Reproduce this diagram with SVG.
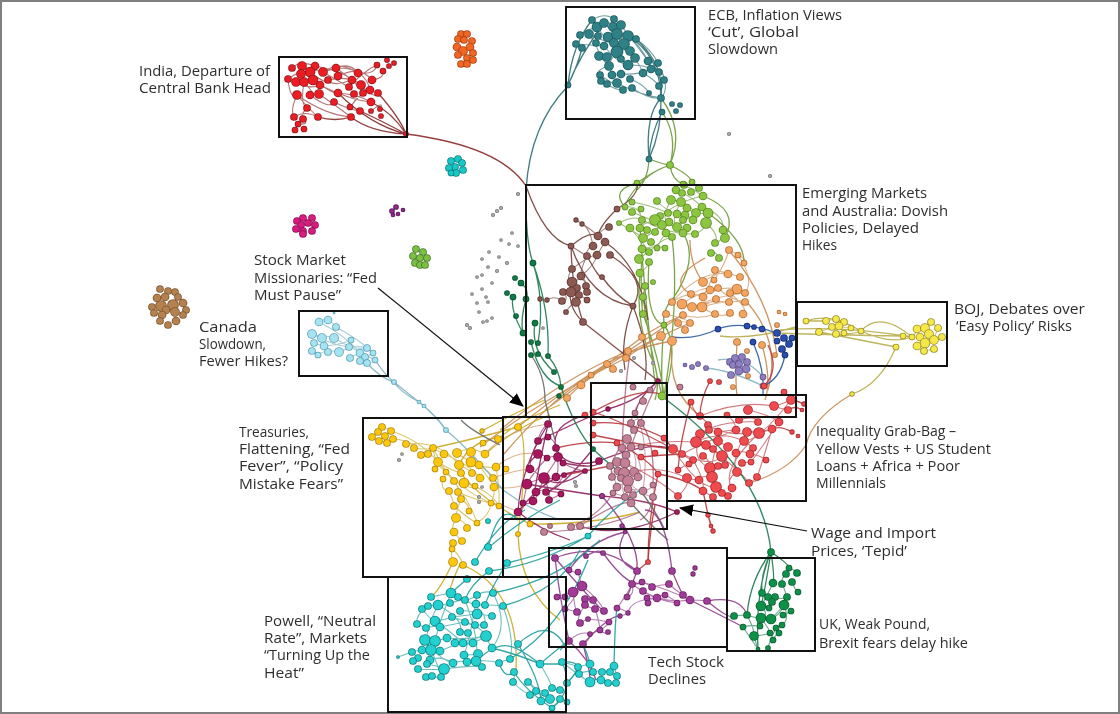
<svg xmlns="http://www.w3.org/2000/svg" width="1120" height="714" viewBox="0 0 1120 714">
<style>
text{font-family:"Open Sans","Liberation Sans",sans-serif;font-size:14px;fill:#2e2e2e}
.fr{fill:none;stroke:#111;stroke-width:2}
#connectors path{fill:none}
#connectors,#nodes,#labels{filter:url(#b)}
.e{stroke-width:1.1;opacity:.65}
.l{stroke-width:1.3;opacity:.9}
circle{stroke-width:1.7;paint-order:stroke}
.red{fill:#ed1c24;stroke:#8c1a1f}.teal{fill:#2f8187;stroke:#1f5b60}.green{fill:#8cc63f;stroke:#5a8a24}
.orange{fill:#f4a460;stroke:#b06f30}.brown{fill:#8d5a52;stroke:#5e3631}.blue{fill:#2a4eb0;stroke:#152c70}
.lav{fill:#8f7fc0;stroke:#5b4e8a}.yellow{fill:#f7e84a;stroke:#9a8f2a}.gold{fill:#fdc70f;stroke:#b08a10}
.maroon{fill:#a8185e;stroke:#6d0f3c}.mauve{fill:#c27f95;stroke:#7b4d5c}.ired{fill:#ef4b50;stroke:#a52a2f}
.dk{fill:#0c9149;stroke:#0a5f33}.purple{fill:#a23a98;stroke:#6a2564}.cyan{fill:#20d0cf;stroke:#12807f}
.lb{fill:#a5e3f2;stroke:#5ba2b5}.chain{fill:#0a7d45;stroke:#07502c}.gray{fill:#aaa;stroke:#777}
.orange2{fill:#f26522;stroke:#a8451a}.cy2{fill:#19c7c7;stroke:#0e8080}.pink{fill:#d81b7e;stroke:#8f1254}
.pur2{fill:#8e2a8e;stroke:#5b1b5b}.gr2{fill:#7ac143;stroke:#4d7c2a}.tan{fill:#b5814f;stroke:#7d5733}
.sred{stroke:#8a2a2a}.steal{stroke:#2b6e74}.sgreen{stroke:#6b9a35}.sor{stroke:#c88a50}.sbr{stroke:#74403b}
.sgold{stroke:#c9a820}.sma{stroke:#8e1f5c}.sma2{stroke:#b0708a}.sir{stroke:#b8383d}.sdk{stroke:#1c7a4f}
.spu{stroke:#8e3a88}.scy{stroke:#1f9d9d}.slb{stroke:#7fb3c2}.sye{stroke:#b8ad4a}.sgr{stroke:#666}.sbl{stroke:#2a5aa0}
</style>
<defs><filter id="b" x="0" y="0" width="1120" height="714" filterUnits="userSpaceOnUse"><feGaussianBlur stdDeviation="0.35"/></filter><marker id="ah" markerWidth="14" markerHeight="12" refX="13" refY="6" orient="auto" markerUnits="userSpaceOnUse"><path d="M0,0L14,6L0,12Z" fill="#000"/></marker></defs>
<rect x="1" y="1" width="1118" height="712" fill="#fff" stroke="#7f7f7f" stroke-width="2"/>
<g id="connectors">
<path class="e sred" d="M292,68Q300,60 315,66M302,66Q320,75 336,68M336,68Q350,62 358,73M310,72Q330,90 351,80M288,79Q290,100 297,95M304,82Q300,105 307,108M313,80Q335,95 338,93M320,85Q350,100 371,102M338,76Q360,65 372,80M358,73Q375,75 377,65M372,80Q385,78 383,71M297,95Q290,110 294,117M297,95Q310,110 318,117M319,94Q335,105 351,117M338,93Q360,95 371,102M350,107Q355,100 363,93M307,108Q300,115 303,119M334,102Q350,110 360,111M294,117Q305,110 318,117M298,124Q310,125 303,119M349,87Q365,70 377,65M361,85Q375,100 378,93M323,72Q340,60 358,73M328,80Q350,75 361,85M371,111Q385,100 380,109M315,66Q345,72 352,80M323,72Q345,85 349,87M310,95Q330,110 334,102M297,95Q325,115 351,117M304,82Q320,100 310,95M338,68Q365,68 370,90M336,68Q360,85 363,93M288,79Q300,70 310,72M296,82Q310,90 320,85"/>
<path class="l sred" d="M406,134Q500,146 526,186M406,134Q370,132 351,117M406,134Q380,120 360,111M406,134Q392,112 371,102M406,134Q370,125 338,93M351,117Q335,122 318,117M406,134Q400,118 378,93"/>
<path class="e steal" d="M592,20Q605,12 614,19M597,27Q610,20 621,25M580,35Q590,28 597,27M589,34Q610,45 624,44M608,37Q625,50 635,58M576,44Q590,45 604,46M628,36Q640,45 648,61M636,39Q652,50 658,63M648,61Q655,75 659,72M630,79Q645,85 649,93M632,88Q650,100 661,98M621,74Q640,75 651,69M617,83Q640,95 661,98M643,73Q655,80 659,86M599,56Q610,65 612,75M609,66Q595,70 600,75M628,65Q645,65 651,69M607,84Q615,90 623,90M651,69Q665,70 664,80M664,80Q668,90 661,98M597,27Q610,45 617,52M604,23Q620,40 630,51M613,27Q630,50 635,58M621,25Q640,50 648,61M589,34Q600,50 599,56M604,46Q620,65 628,65M614,43Q625,60 621,59M617,52Q610,60 609,66M630,51Q640,65 643,73M600,75Q615,85 623,90"/>
<path class="l steal" d="M568,86Q530,125 526,190M568,85Q572,45 592,20M568,85Q580,55 604,23M568,85Q578,65 582,48M628,36Q660,55 661,98M636,39Q665,65 661,98M661,98Q645,115 649,159M661,98Q662,130 649,159M662,112Q650,135 649,159"/>
<path class="l sgreen" d="M662,112Q678,135 670,165M661,98Q685,130 670,165M670,165Q640,175 625,205M670,165Q655,170 637,183M670,165Q672,180 683,184M670,165Q690,175 692,182M649,159Q665,165 670,165M649,159Q648,180 637,190"/>
<path class="e sgreen" d="M684,185Q695,190 703,196M676,190Q690,195 702,207M671,200Q685,200 696,213M657,201Q665,210 677,214M625,207Q640,205 642,220M632,202Q650,205 668,213M619,223Q635,215 642,220M708,213Q695,215 687,208M655,220Q640,225 640,228M662,225Q650,235 643,238M677,227Q685,220 696,213M695,234Q705,230 706,223M666,233Q660,240 657,248M642,249Q655,245 665,248M639,259Q650,250 649,252M649,252Q660,240 672,237M640,273Q650,265 649,262M719,258Q715,250 711,253M723,230Q725,240 715,243M655,220Q680,200 703,196M632,212Q660,225 687,228M642,220Q670,235 695,234M671,200Q660,220 669,222M681,202Q670,220 677,227M619,223Q640,235 643,238M630,228Q645,245 649,252M706,223Q720,235 715,243M702,207Q725,215 723,230"/>
<path class="l sgreen" d="M642,249Q640,300 643,314M643,297Q650,350 662,396M672,237Q680,300 664,396M640,228Q645,300 655,383M683,233Q700,260 672,300Q662,310 664,325M703,196Q740,210 725,238M708,213Q745,240 744,263M646,286Q640,300 643,314Q660,360 664,396M649,262Q645,320 664,325M664,325Q660,370 663,398M640,273Q635,330 655,365Q660,385 655,400M664,325Q680,345 664,396M625,207Q610,190 637,183"/>
<path class="e sor" d="M729,250Q750,260 744,263M738,255Q755,280 745,293M715,270Q735,275 740,277M703,282Q720,270 728,274M691,294Q710,285 710,290M703,297Q720,285 737,289M672,302Q690,290 703,297M682,304Q700,310 716,299M692,307Q710,300 729,302M702,307Q720,320 730,313M683,315Q700,320 715,314M666,314Q690,320 690,323M730,293Q750,310 743,314M737,289Q730,300 729,302M718,288Q730,300 745,302M714,280Q725,265 729,250M690,323Q675,320 678,323M685,330Q680,325 678,323M672,302Q700,270 728,274M682,304Q710,285 737,289M692,307Q720,295 745,293M702,307Q725,300 745,302M715,270Q710,285 703,297"/>
<path class="l sor" d="M480,447Q540,400 626,358Q650,340 690,323M500,430Q560,380 628,351Q660,330 682,315M518,427Q570,385 607,364M545,410Q590,378 642,337M567,398Q600,365 661,336M503,455Q550,400 591,375Q620,350 672,341M672,341C668,380 680,400 700,416M737,342Q735,380 737,396M762,345Q772,380 765,400M745,300Q782,340 768,390M729,250Q770,300 777,355M691,294Q665,280 705,258M703,282Q690,265 690,240M642,337Q660,325 683,315"/>
<path class="e sbr" d="M576,220Q590,228 598,236M582,224Q590,228 593,246M609,227Q600,230 598,236M605,242Q600,250 597,255M593,246Q585,250 587,256M571,246Q585,255 587,256M572,269Q565,280 572,282M581,276Q590,285 587,292M563,292Q570,300 562,301M579,295Q585,298 587,300M566,312Q570,305 576,302M547,300Q555,295 562,301M540,299Q550,302 547,300M572,269Q590,255 597,255M581,276Q595,265 597,255M571,292Q580,290 579,295M572,282Q585,275 586,286M576,302Q570,295 571,292M587,256Q580,270 581,276"/>
<path class="l sbr" d="M617,209Q640,195 637,183M617,209Q600,225 598,236M571,246Q590,230 598,236M571,246Q572,290 583,322M610,255Q650,280 633,306M583,322L657,380M572,282Q565,305 583,322M633,306Q620,340 625,370M633,306Q650,350 645,380M526,186Q545,240 571,246M571,246Q590,300 633,306M605,242Q640,265 648,320M602,277Q615,295 633,306M587,256Q600,280 602,277"/>
<path class="e sgold" d="M382,427Q395,430 391,431M372,437Q385,445 393,439M393,439Q410,440 414,448M414,448Q425,450 433,448M421,455Q430,445 444,454M433,448Q435,465 446,472M457,453Q470,445 485,454M438,462Q450,470 461,473M459,465Q470,470 472,473M471,462Q490,470 493,478M479,465Q490,480 494,487M454,481Q460,490 458,492M464,483Q470,490 475,486M449,491Q455,505 454,506M461,499Q470,505 469,511M454,518Q465,520 467,528M456,518Q450,530 454,532M454,532Q460,540 462,541M453,543Q450,555 453,562M452,549Q460,555 463,565M491,503Q495,495 494,487M499,506Q500,490 496,467M477,523Q490,515 491,503M443,479Q440,490 449,491M444,454Q470,465 480,478M438,462Q460,490 491,503M457,453Q480,470 496,467M446,472Q470,500 477,523M464,483Q490,490 499,506M458,492Q475,500 491,503M454,506Q470,520 477,523M406,444Q440,440 459,465M391,431Q420,440 438,462M461,499Q455,515 456,518M433,448Q450,480 454,481"/>
<path class="l sgold" d="M518,427Q470,440 433,448M530,524Q480,500 461,473M503,437Q470,440 459,465M530,524Q590,525 640,512M518,534Q520,590 560,620M463,565Q520,590 516,670M453,562Q440,590 431,597M461,562Q450,585 449,595M498,439Q520,420 560,405M485,454Q520,425 550,415M518,427Q530,435 518,534M482,431Q520,410 545,400"/>
<path class="e sor" d="M496,467Q515,450 538,454M493,478Q515,470 530,469M494,487Q510,490 527,484M491,503Q505,505 518,512M485,454Q505,430 548,424"/>
<path class="e sma" d="M548,424Q540,430 538,441M538,441Q545,440 548,437M548,437Q555,440 556,448M538,454Q545,455 547,458M547,458Q555,455 558,457M558,457Q560,460 563,463M530,469Q540,475 544,478M544,478Q550,480 556,477M556,477Q560,475 564,475M527,484Q535,480 544,478M536,492Q545,488 546,492M546,492Q555,490 561,494M533,501Q540,495 536,492M549,500Q555,497 561,494M523,503Q530,505 533,501M518,512Q525,510 523,503M538,441Q530,455 530,469M556,448Q560,470 556,477M544,478Q540,490 536,492M544,478Q550,490 549,500M558,457Q550,470 544,478M527,484Q525,495 523,503M547,458Q535,470 527,484M564,475Q555,490 546,492M563,463Q575,470 585,471"/>
<path class="l sma" d="M538,441Q570,425 608,409M608,409Q640,400 658,381M599,461Q565,470 556,448M599,461Q650,440 673,449M585,471Q560,490 544,478M518,512Q550,470 585,471M602,496Q560,490 527,484M602,496Q650,500 677,512M548,424Q538,470 533,501M548,424Q520,470 518,512M677,512Q620,540 580,526M538,454Q520,470 530,469M563,463Q600,470 599,461M585,415Q550,425 556,448M593,449Q560,490 546,492M518,512Q540,530 570,540M658,381Q640,395 635,413"/>
<path class="e sma2" d="M643,401Q635,405 635,413M635,413Q630,420 631,423M631,423Q640,415 641,423M641,423Q635,425 634,430M634,430Q630,435 627,439M627,439Q622,445 622,448M622,448Q630,440 631,447M631,447Q630,455 626,455M626,455Q620,460 617,462M617,462Q610,465 610,466M617,462Q620,465 625,463M625,463Q635,470 634,472M618,471Q625,470 624,473M612,477Q620,475 621,478M628,481Q635,480 638,477M617,487Q625,480 628,489M628,489Q640,490 643,491M643,491Q650,490 653,485M653,485Q655,490 653,497M633,495Q640,490 628,489M625,497Q620,495 613,493M631,503Q635,495 633,495M627,439Q640,460 634,472M631,447Q645,465 638,477M610,466Q615,480 617,487M624,473Q620,485 625,497M628,481Q640,495 653,497M635,413Q650,440 643,491"/>
<path class="l sma2" d="M641,423Q655,440 653,485M627,439Q608,460 612,477M544,532Q600,530 640,512M580,526Q620,500 631,503M571,527Q600,515 613,493M653,497Q650,515 640,520M658,381Q640,420 631,447M630,355Q625,380 622,448"/>
<path class="e sir" d="M791,400Q780,405 774,406M774,406Q785,410 788,410M748,410Q770,415 779,422M739,420Q755,415 758,422M727,415Q735,420 736,430M700,416Q710,425 708,425M691,402Q695,415 700,416M700,434Q705,430 709,430M718,432Q730,430 736,430M747,432Q755,430 759,433M772,429Q770,430 759,433M696,442Q700,445 706,445M718,441Q725,445 728,447M744,441Q750,445 753,448M713,449Q720,455 722,456M673,449Q680,450 682,454M682,454Q690,460 693,460M703,456Q710,460 710,468M736,453Q745,450 750,454M750,454Q760,455 766,460M742,463Q750,462 751,462M718,466Q722,470 725,465M678,470Q685,465 689,464M737,472Q725,480 732,488M712,477Q700,475 699,480M687,478Q695,480 699,480M757,477Q755,480 749,483M716,487Q725,490 722,493M703,491Q710,495 713,497M728,496Q725,495 722,493M678,496Q690,485 687,478M673,449Q710,470 722,456M708,425Q730,440 772,429M696,442Q720,430 744,441M700,434Q690,460 710,468M759,433Q720,470 732,488M779,422Q760,450 751,462M700,416Q740,400 774,406M631,447Q660,440 696,442M634,472Q660,465 687,478M625,463Q660,480 678,496M673,449Q700,490 716,487M682,454Q710,440 736,430M706,445Q740,470 749,483M718,441Q710,465 712,477M747,432Q730,460 737,472M772,429Q760,470 757,477M693,460Q705,480 703,491M758,422Q720,420 700,434M791,400Q760,440 744,441"/>
<path class="l sir" d="M593,412Q620,420 673,449M593,435Q640,445 673,449M617,443Q650,460 658,474M658,474Q690,480 703,491M691,402Q680,440 678,470M648,562Q648,520 658,474M708,515Q706,505 703,491M764,386Q780,370 768,345M710,381Q700,400 700,416M593,423Q630,420 664,438M664,438Q670,445 673,449M641,457Q660,455 682,454M593,412Q640,385 664,395M556,448Q590,440 617,443M564,475Q590,470 610,466"/>
<path class="l sir" d="M713,531Q708,515 708,515M711,526L708,515M792,432Q780,425 772,429M804,404Q795,400 791,400M802,410Q795,405 788,410"/>
<path class="l sdk" d="M664,398C720,440 765,490 771,552M533,263Q545,300 538,343M533,263Q550,310 548,356M535,323Q530,350 554,372M548,356Q560,370 561,387M531,342Q540,380 561,386M561,387Q575,430 593,449Q610,465 617,470M526,190C525,220 528,250 533,263M521,283Q530,290 526,299M523,333Q510,310 513,297M771,552Q765,590 761,606M771,552Q750,580 747,615M771,552Q790,565 789,568M771,552Q775,580 773,583M771,552Q755,590 758,649M771,552Q760,575 762,593M526,299Q520,320 523,333"/>
<path class="e sdk" d="M789,568Q795,570 797,573M786,574Q780,580 782,584M792,582Q795,590 798,592M762,593Q765,595 768,597M775,597Q780,600 787,597M772,602Q770,605 769,608M761,606Q770,615 761,618M784,605Q775,615 771,619M791,611Q785,615 783,615M747,615Q755,618 761,618M734,616Q740,615 747,615M743,627Q750,625 760,626M776,628Q780,625 782,625M754,636Q765,635 770,633M779,633Q775,635 773,640M768,648Q770,640 773,640M758,649Q755,640 754,636M761,618Q770,630 770,633M771,619Q780,615 784,605M762,593Q775,605 772,602M773,583Q765,600 761,606M782,584Q790,600 784,605M747,615Q755,630 754,636M743,627Q755,645 758,649M776,628Q770,640 768,648M784,605Q790,620 782,625"/>
<path class="l sgr" d="M531,355Q545,375 545,400Q552,430 555,440M631,503Q650,525 668,540M640,490Q655,510 665,530M500,445Q470,430 461,420"/>
<path class="e spu" d="M578,572Q580,580 582,586M582,586Q575,590 573,592M632,584Q640,585 642,582M642,582Q650,585 652,587M652,587Q660,585 669,584M669,584Q675,590 683,595M557,597Q560,600 565,597M585,599Q590,598 593,600M627,597Q635,595 632,584M647,598Q650,600 657,598M657,598Q660,595 665,595M665,595Q675,600 677,603M690,600Q680,600 677,603M690,600Q700,600 707,601M565,609Q570,610 577,612M585,605Q590,608 595,609M595,609Q600,610 604,611M617,608Q625,610 628,613M628,613Q625,615 620,616M580,623Q585,620 588,619M609,622Q605,628 600,630M590,634Q595,632 600,630M608,632Q605,635 600,630M569,570Q580,575 578,572M573,592Q560,595 557,597M582,586Q600,600 604,611M617,608Q630,590 632,584M588,619Q600,620 609,622M569,641Q580,630 590,634M583,644Q590,640 590,634M656,598Q630,600 628,613M643,591Q655,600 677,603M632,584Q660,605 690,600M642,582Q670,590 690,600M573,592Q575,610 577,612M582,586Q570,605 565,609M593,600Q600,625 600,630M585,605Q575,620 580,623"/>
<path class="l spu" d="M602,496Q640,540 637,571M625,532Q610,560 637,571M672,571Q665,510 645,510M637,571Q600,540 555,558M586,556Q600,548 603,553M603,553Q630,590 642,582M555,558Q560,600 569,641M569,641Q590,660 596,680M707,601Q740,595 747,615M707,601Q730,620 734,616M690,600Q740,625 743,627M569,570Q590,540 625,532M555,558Q600,610 604,611M672,571Q680,590 683,595M637,571Q630,590 627,597M620,616Q610,615 583,644Q590,670 590,680"/>
<path class="l sir" d="M648,562L637,571M648,562Q650,530 655,505"/>
<path class="e scy" d="M431,597Q440,595 451,593M451,593Q455,595 458,597M422,609Q425,605 428,606M428,606Q435,605 438,605M438,605Q445,605 450,603M450,603Q460,600 465,600M465,600Q470,600 477,595M477,595Q485,590 493,593M476,604Q480,605 485,605M485,605Q495,605 503,606M460,611Q470,610 477,614M435,621Q445,620 452,617M452,617Q470,615 477,614M477,614Q485,615 492,616M417,624Q420,625 426,628M426,628Q435,625 440,627M440,627Q450,625 465,622M465,622Q470,625 475,625M475,625Q480,625 484,625M460,632Q465,630 468,633M425,640Q430,640 435,641M435,641Q440,640 447,638M447,638Q465,640 486,636M455,643Q460,645 463,643M463,643Q470,645 473,643M473,643Q480,640 486,636M486,636Q490,645 492,648M412,652Q420,650 422,650M422,650Q428,650 431,650M431,650Q438,650 440,651M478,654Q470,655 464,655M418,658Q415,660 413,661M430,660Q440,655 453,663M453,663Q460,660 467,662M467,662Q472,660 476,661M476,661Q490,660 499,663M499,663Q505,660 510,659M427,664Q435,665 444,669M444,669Q430,670 418,669M426,677Q430,675 432,676M432,676Q438,678 441,677M438,605Q420,640 431,650M451,593Q440,620 435,641M477,595Q470,640 464,655M493,593Q510,625 492,648M503,606Q515,640 510,659M465,600Q480,640 476,661M398,657L412,652M422,609Q440,630 440,627M428,606Q415,615 417,624M438,605Q465,620 460,632M458,597Q490,610 484,625M435,621Q455,635 463,643M452,617Q480,625 486,636M425,640Q440,660 453,663M440,651Q465,640 486,636M444,669Q470,665 482,667M431,650Q440,670 441,677"/>
<path class="e scy" d="M514,672Q515,678 513,682M513,682Q520,690 530,695M528,682Q535,690 536,691M536,691Q545,690 545,693M552,688Q555,690 560,690M545,693Q550,695 550,699M541,701Q545,700 550,699M560,699Q555,705 552,708M567,702Q565,700 560,699M567,683Q575,675 578,667M578,667Q585,665 590,664M579,674Q585,670 593,672M593,672Q600,670 602,672M602,672Q605,670 610,672M614,666Q615,670 617,676M590,682Q595,678 601,680M601,680Q605,682 608,683M608,683Q612,685 616,683M562,662Q575,665 578,667M562,662Q585,680 590,682M540,664Q550,680 552,688M528,682Q545,695 541,701"/>
<path class="l scy" d="M475,562Q500,520 525,510M488,548Q500,500 518,520M507,563Q560,550 588,536Q610,510 640,490M489,571Q540,565 588,536M488,548Q520,520 560,500M503,606Q560,590 580,550M518,644Q550,615 566,648M540,664Q580,630 560,650M540,664H562M614,666Q615,620 617,608M583,644Q590,660 590,666M476,661C500,640 510,640 540,664M514,672Q525,690 552,708M518,644Q540,680 541,701M492,648Q520,655 540,664M499,663Q505,680 514,672M489,571Q470,585 465,600M507,563Q490,590 485,605M467,579L451,593M493,593Q560,580 600,540M510,659Q560,630 588,560M567,683Q590,660 562,662M562,662Q575,690 552,708"/>
<path class="l slb" d="M375,360Q385,375 394,382Q400,392 419,402Q435,415 446,430Q470,450 503,490Q530,510 560,520M367,363Q380,378 394,382Q410,395 424,406Q440,420 446,430"/>
<path class="e slb" d="M319,322Q325,318 328,320M328,320Q332,322 336,327M312,334Q318,335 322,338M322,338Q330,335 334,338M314,343Q320,345 324,346M324,346Q340,345 351,340M312,351Q315,352 318,355M318,355Q325,350 328,352M328,352Q335,350 339,352M339,352Q345,350 349,347M349,347Q360,345 367,348M360,353Q355,355 350,358M365,357Q370,355 373,353M360,361Q365,362 367,363M312,334Q340,350 367,348M319,322Q345,335 360,353M334,338Q355,350 375,360M336,327Q360,340 373,353"/>
<path class="l sye" d="M777,333Q830,335 903,336M780,330Q840,325 912,337M796,327Q750,340 720,336M861,331Q890,345 912,337M861,331Q880,310 912,337M806,321Q830,312 861,331M819,332Q860,340 896,347M896,347Q880,385 852,394M806,321L826,321M861,331Q850,335 844,333"/>
<path class="l sor" d="M852,394Q812,418 806,445Q790,470 750,483"/>
<path class="e sye" d="M826,321Q830,320 836,319M836,319Q840,320 844,322M832,327Q835,328 839,326M839,326Q845,328 851,328M836,334Q840,330 844,333M819,332Q825,330 832,327M912,337Q915,335 917,329M917,329Q920,328 925,328M925,328Q930,325 931,322M931,322Q935,325 938,328M929,334Q925,335 920,337M934,340Q938,338 942,337M925,343Q920,345 917,346M917,346Q920,350 924,351M924,351Q930,350 934,349M903,336Q908,336 912,337M938,328Q935,335 934,340"/>
<path class="l sbl" d="M718,329Q740,320 777,333M672,337Q695,340 718,329M753,342Q765,370 763,395M785,355Q780,380 763,386"/>
<path class="l slb" d="M706,368Q730,370 763,386M763,377Q745,355 718,360"/>
</g>
<g id="nodes">
<g id="india" class="red"><circle cx="292" cy="68" r="3"/><circle cx="302" cy="66" r="4"/><circle cx="315" cy="66" r="3.5"/><circle cx="323" cy="72" r="4"/><circle cx="336" cy="68" r="3.5"/><circle cx="310" cy="72" r="4.5"/><circle cx="301" cy="74" r="4"/><circle cx="288" cy="79" r="3"/><circle cx="296" cy="82" r="4"/><circle cx="304" cy="82" r="4"/><circle cx="313" cy="80" r="4.5"/><circle cx="328" cy="80" r="3"/><circle cx="320" cy="85" r="3.5"/><circle cx="338" cy="76" r="3.5"/><circle cx="358" cy="73" r="3.5"/><circle cx="352" cy="80" r="3.5"/><circle cx="372" cy="80" r="3.5"/><circle cx="361" cy="85" r="4"/><circle cx="349" cy="87" r="3"/><circle cx="370" cy="90" r="3.5"/><circle cx="378" cy="93" r="3"/><circle cx="363" cy="93" r="3"/><circle cx="354" cy="94" r="3"/><circle cx="338" cy="93" r="3.5"/><circle cx="319" cy="94" r="4"/><circle cx="310" cy="95" r="3.5"/><circle cx="297" cy="95" r="4"/><circle cx="334" cy="102" r="3"/><circle cx="371" cy="102" r="3.5"/><circle cx="350" cy="107" r="2.5"/><circle cx="307" cy="108" r="3"/><circle cx="360" cy="111" r="3"/><circle cx="351" cy="117" r="3"/><circle cx="318" cy="117" r="3"/><circle cx="294" cy="117" r="3"/><circle cx="303" cy="119" r="3"/><circle cx="298" cy="124" r="2.5"/><circle cx="295" cy="130" r="2.5"/><circle cx="304" cy="129" r="2.5"/><circle cx="371" cy="111" r="2"/><circle cx="380" cy="109" r="2"/><circle cx="381" cy="116" r="2"/><circle cx="377" cy="65" r="2.5"/><circle cx="383" cy="71" r="2.5"/><circle cx="389" cy="66" r="2"/><circle cx="387" cy="60" r="2"/><circle cx="394" cy="63" r="2"/><circle cx="406" cy="134" r="2"/></g>
<g id="ecb" class="teal"><circle cx="592" cy="20" r="3"/><circle cx="614" cy="19" r="3"/><circle cx="597" cy="27" r="4.5"/><circle cx="604" cy="23" r="4"/><circle cx="613" cy="27" r="4"/><circle cx="621" cy="25" r="4"/><circle cx="580" cy="35" r="3"/><circle cx="589" cy="34" r="4"/><circle cx="598" cy="36" r="3"/><circle cx="608" cy="37" r="4.5"/><circle cx="617" cy="34" r="5"/><circle cx="628" cy="36" r="5"/><circle cx="636" cy="39" r="3"/><circle cx="576" cy="44" r="3"/><circle cx="582" cy="48" r="3"/><circle cx="596" cy="43" r="3"/><circle cx="604" cy="46" r="3.5"/><circle cx="614" cy="43" r="4"/><circle cx="624" cy="44" r="5"/><circle cx="630" cy="51" r="4"/><circle cx="617" cy="52" r="5.5"/><circle cx="599" cy="56" r="4"/><circle cx="607" cy="57" r="4"/><circle cx="621" cy="59" r="3"/><circle cx="635" cy="58" r="4"/><circle cx="609" cy="66" r="4"/><circle cx="628" cy="65" r="4.5"/><circle cx="648" cy="61" r="3.5"/><circle cx="658" cy="63" r="3"/><circle cx="651" cy="69" r="3.5"/><circle cx="659" cy="72" r="3"/><circle cx="643" cy="73" r="3.5"/><circle cx="600" cy="75" r="3"/><circle cx="612" cy="75" r="3.5"/><circle cx="621" cy="74" r="3.5"/><circle cx="630" cy="79" r="3"/><circle cx="617" cy="83" r="4"/><circle cx="601" cy="81" r="3"/><circle cx="607" cy="84" r="3"/><circle cx="623" cy="90" r="3"/><circle cx="632" cy="88" r="3"/><circle cx="649" cy="93" r="2"/><circle cx="659" cy="86" r="3"/><circle cx="664" cy="80" r="3"/><circle cx="661" cy="98" r="3"/><circle cx="662" cy="112" r="2.5"/><circle cx="672" cy="104" r="2"/><circle cx="680" cy="105" r="2"/><circle cx="676" cy="111" r="2"/><circle cx="568" cy="85" r="2.5"/><circle cx="649" cy="159" r="2.5"/></g>
<g id="emerging" class="green"><circle cx="684" cy="185" r="3"/><circle cx="676" cy="190" r="3.5"/><circle cx="692" cy="182" r="2.5"/><circle cx="637" cy="183" r="2.5"/><circle cx="699" cy="188" r="3"/><circle cx="691" cy="192" r="3"/><circle cx="682" cy="193" r="3"/><circle cx="703" cy="196" r="3.5"/><circle cx="671" cy="200" r="4"/><circle cx="657" cy="201" r="3"/><circle cx="681" cy="202" r="4"/><circle cx="702" cy="207" r="3.5"/><circle cx="687" cy="208" r="3.5"/><circle cx="625" cy="207" r="2.5"/><circle cx="632" cy="202" r="2.5"/><circle cx="632" cy="212" r="3"/><circle cx="641" cy="209" r="2.5"/><circle cx="708" cy="213" r="4.5"/><circle cx="696" cy="213" r="4"/><circle cx="685" cy="215" r="3.5"/><circle cx="677" cy="214" r="3.5"/><circle cx="668" cy="213" r="3"/><circle cx="660" cy="216" r="3"/><circle cx="655" cy="220" r="5"/><circle cx="642" cy="220" r="3"/><circle cx="619" cy="223" r="2"/><circle cx="706" cy="223" r="5"/><circle cx="693" cy="220" r="3.5"/><circle cx="683" cy="220" r="3"/><circle cx="669" cy="222" r="3.5"/><circle cx="640" cy="228" r="3.5"/><circle cx="630" cy="228" r="3.5"/><circle cx="647" cy="230" r="3"/><circle cx="662" cy="225" r="4"/><circle cx="677" cy="227" r="4"/><circle cx="687" cy="228" r="3.5"/><circle cx="695" cy="234" r="3"/><circle cx="655" cy="232" r="3"/><circle cx="666" cy="233" r="3.5"/><circle cx="672" cy="237" r="3"/><circle cx="683" cy="233" r="3.5"/><circle cx="643" cy="238" r="4"/><circle cx="651" cy="242" r="3"/><circle cx="723" cy="230" r="3.5"/><circle cx="725" cy="238" r="4"/><circle cx="715" cy="243" r="3"/><circle cx="711" cy="253" r="3"/><circle cx="719" cy="258" r="3"/><circle cx="642" cy="249" r="3.5"/><circle cx="657" cy="248" r="2.5"/><circle cx="665" cy="248" r="2.5"/><circle cx="649" cy="252" r="3"/><circle cx="639" cy="259" r="4"/><circle cx="649" cy="262" r="3"/><circle cx="640" cy="273" r="3.5"/><circle cx="653" cy="282" r="2"/><circle cx="645" cy="286" r="3"/><circle cx="643" cy="297" r="3"/><circle cx="643" cy="314" r="3"/><circle cx="664" cy="325" r="2.5"/><circle cx="662" cy="396" r="3.5"/><circle cx="670" cy="165" r="3"/><circle cx="683" cy="184" r="2.5"/></g>
<g id="australia" class="orange"><circle cx="729" cy="250" r="3"/><circle cx="738" cy="255" r="2.5"/><circle cx="744" cy="263" r="2.5"/><circle cx="715" cy="270" r="3"/><circle cx="728" cy="274" r="3.5"/><circle cx="740" cy="277" r="3"/><circle cx="703" cy="282" r="4"/><circle cx="714" cy="280" r="2.5"/><circle cx="691" cy="294" r="3"/><circle cx="710" cy="290" r="3.5"/><circle cx="718" cy="288" r="3"/><circle cx="737" cy="289" r="4.5"/><circle cx="730" cy="293" r="3"/><circle cx="745" cy="293" r="3"/><circle cx="703" cy="297" r="3.5"/><circle cx="716" cy="299" r="3"/><circle cx="729" cy="302" r="3"/><circle cx="745" cy="302" r="3"/><circle cx="672" cy="302" r="3"/><circle cx="682" cy="304" r="4.5"/><circle cx="692" cy="307" r="4"/><circle cx="702" cy="307" r="4.5"/><circle cx="683" cy="315" r="3"/><circle cx="666" cy="314" r="3"/><circle cx="715" cy="314" r="3"/><circle cx="730" cy="313" r="3"/><circle cx="743" cy="314" r="3.5"/><circle cx="690" cy="323" r="3"/><circle cx="678" cy="323" r="3"/><circle cx="685" cy="330" r="3"/><circle cx="642" cy="337" r="3"/><circle cx="661" cy="336" r="4"/><circle cx="672" cy="341" r="4"/><circle cx="737" cy="342" r="3"/><circle cx="762" cy="345" r="3"/><circle cx="747" cy="351" r="2"/><circle cx="775" cy="355" r="2"/><circle cx="628" cy="351" r="3"/><circle cx="626" cy="358" r="3"/><circle cx="607" cy="364" r="3"/><circle cx="613" cy="369" r="3"/><circle cx="591" cy="375" r="2.5"/><circle cx="581" cy="385" r="3.5"/><circle cx="567" cy="398" r="3"/><circle cx="777" cy="325" r="2"/><circle cx="779" cy="312" r="1.5"/><circle cx="785" cy="314" r="1.5"/><circle cx="748" cy="376" r="2"/><circle cx="733" cy="387" r="2"/></g>
<g id="brown" class="brown"><circle cx="576" cy="220" r="1.8"/><circle cx="582" cy="224" r="1.8"/><circle cx="609" cy="227" r="3"/><circle cx="617" cy="209" r="2.5"/><circle cx="598" cy="236" r="3.5"/><circle cx="605" cy="242" r="3.5"/><circle cx="593" cy="246" r="3.5"/><circle cx="571" cy="246" r="2.5"/><circle cx="610" cy="255" r="3"/><circle cx="597" cy="255" r="3.5"/><circle cx="587" cy="256" r="3"/><circle cx="572" cy="269" r="3"/><circle cx="581" cy="276" r="3.5"/><circle cx="572" cy="282" r="4.5"/><circle cx="602" cy="277" r="2"/><circle cx="577" cy="288" r="3"/><circle cx="586" cy="286" r="3"/><circle cx="563" cy="292" r="3"/><circle cx="571" cy="292" r="4.5"/><circle cx="579" cy="295" r="3"/><circle cx="587" cy="292" r="3"/><circle cx="562" cy="301" r="3"/><circle cx="576" cy="302" r="4"/><circle cx="587" cy="300" r="2.5"/><circle cx="566" cy="312" r="2"/><circle cx="583" cy="322" r="3"/><circle cx="547" cy="300" r="1.8"/><circle cx="540" cy="299" r="1.8"/><circle cx="633" cy="306" r="2.5"/></g>
<g id="boj-blue" class="blue"><circle cx="718" cy="329" r="2.5"/><circle cx="747" cy="326" r="2.5"/><circle cx="754" cy="327" r="2"/><circle cx="762" cy="329" r="2.5"/><circle cx="777" cy="333" r="3"/><circle cx="753" cy="342" r="2.5"/><circle cx="784" cy="338" r="3"/><circle cx="792" cy="338" r="2.5"/><circle cx="777" cy="341" r="2.5"/><circle cx="789" cy="344" r="3"/><circle cx="782" cy="349" r="3"/><circle cx="785" cy="355" r="2.5"/></g>
<g id="lavender" class="lav"><circle cx="685" cy="365" r="1.5"/><circle cx="692" cy="367" r="2"/><circle cx="698" cy="364" r="2"/><circle cx="706" cy="368" r="2"/><circle cx="730" cy="362" r="3"/><circle cx="735" cy="358" r="3"/><circle cx="742" cy="357" r="3"/><circle cx="747" cy="362" r="3"/><circle cx="733" cy="365" r="3"/><circle cx="739" cy="364" r="3"/><circle cx="746" cy="369" r="3.5"/><circle cx="739" cy="371" r="3.5"/><circle cx="731" cy="375" r="3"/><circle cx="763" cy="377" r="2.5"/><circle cx="763" cy="386" r="2.5"/></g>
<g id="boj" class="yellow"><circle cx="806" cy="321" r="2.5"/><circle cx="826" cy="321" r="3"/><circle cx="836" cy="319" r="3"/><circle cx="844" cy="322" r="3"/><circle cx="832" cy="327" r="3"/><circle cx="839" cy="326" r="3.5"/><circle cx="851" cy="328" r="2.5"/><circle cx="819" cy="332" r="3"/><circle cx="836" cy="334" r="3"/><circle cx="844" cy="333" r="2.5"/><circle cx="861" cy="331" r="2.5"/><circle cx="903" cy="336" r="2.5"/><circle cx="896" cy="347" r="2.5"/><circle cx="912" cy="337" r="2.5"/><circle cx="917" cy="329" r="3.5"/><circle cx="925" cy="328" r="4"/><circle cx="931" cy="322" r="3"/><circle cx="938" cy="328" r="3"/><circle cx="929" cy="334" r="4"/><circle cx="920" cy="337" r="3.5"/><circle cx="934" cy="340" r="4"/><circle cx="942" cy="337" r="3"/><circle cx="925" cy="343" r="4.5"/><circle cx="917" cy="346" r="3.5"/><circle cx="924" cy="351" r="3"/><circle cx="934" cy="349" r="3"/><circle cx="852" cy="394" r="1.8"/></g>
<g id="treasuries" class="gold"><circle cx="382" cy="427" r="3"/><circle cx="378" cy="432" r="3"/><circle cx="391" cy="431" r="3"/><circle cx="372" cy="437" r="3"/><circle cx="385" cy="436" r="3"/><circle cx="379" cy="441" r="3"/><circle cx="393" cy="439" r="3"/><circle cx="387" cy="443" r="3"/><circle cx="406" cy="444" r="3"/><circle cx="414" cy="448" r="3"/><circle cx="433" cy="448" r="3"/><circle cx="421" cy="455" r="3"/><circle cx="428" cy="454" r="3"/><circle cx="444" cy="454" r="3.5"/><circle cx="457" cy="453" r="4"/><circle cx="471" cy="452" r="4"/><circle cx="485" cy="454" r="3.5"/><circle cx="438" cy="462" r="4"/><circle cx="459" cy="465" r="4"/><circle cx="471" cy="462" r="4.5"/><circle cx="479" cy="465" r="3.5"/><circle cx="496" cy="467" r="3.5"/><circle cx="446" cy="472" r="2.5"/><circle cx="435" cy="469" r="2.5"/><circle cx="461" cy="473" r="3"/><circle cx="472" cy="473" r="3"/><circle cx="480" cy="478" r="3.5"/><circle cx="493" cy="478" r="3"/><circle cx="454" cy="481" r="3"/><circle cx="464" cy="483" r="4.5"/><circle cx="443" cy="479" r="2.5"/><circle cx="475" cy="486" r="2.5"/><circle cx="494" cy="487" r="3.5"/><circle cx="449" cy="491" r="3"/><circle cx="458" cy="492" r="3"/><circle cx="461" cy="499" r="3"/><circle cx="454" cy="506" r="3"/><circle cx="469" cy="511" r="2.5"/><circle cx="491" cy="503" r="2.5"/><circle cx="499" cy="506" r="2.5"/><circle cx="456" cy="518" r="4"/><circle cx="477" cy="523" r="2.5"/><circle cx="467" cy="528" r="3"/><circle cx="454" cy="532" r="3.5"/><circle cx="462" cy="541" r="3"/><circle cx="453" cy="543" r="3"/><circle cx="452" cy="549" r="2.5"/><circle cx="453" cy="562" r="4"/><circle cx="463" cy="565" r="3"/><circle cx="498" cy="439" r="3"/><circle cx="483" cy="443" r="2.5"/><circle cx="518" cy="427" r="3"/><circle cx="482" cy="431" r="1.8"/><circle cx="506" cy="469" r="2.5"/><circle cx="530" cy="524" r="2.5"/><circle cx="518" cy="534" r="2"/></g>
<g id="missionaries" class="maroon"><circle cx="548" cy="424" r="3"/><circle cx="538" cy="441" r="3"/><circle cx="548" cy="437" r="2.5"/><circle cx="556" cy="448" r="3"/><circle cx="538" cy="454" r="4"/><circle cx="547" cy="458" r="2.5"/><circle cx="558" cy="457" r="4"/><circle cx="563" cy="463" r="2.5"/><circle cx="530" cy="469" r="3.5"/><circle cx="544" cy="478" r="5"/><circle cx="556" cy="477" r="3.5"/><circle cx="564" cy="475" r="2"/><circle cx="527" cy="484" r="4.5"/><circle cx="536" cy="492" r="3.5"/><circle cx="546" cy="492" r="3"/><circle cx="561" cy="494" r="2.5"/><circle cx="533" cy="501" r="3.5"/><circle cx="549" cy="500" r="3"/><circle cx="523" cy="503" r="2.5"/><circle cx="518" cy="512" r="3.5"/><circle cx="599" cy="461" r="3"/><circle cx="585" cy="471" r="2"/><circle cx="608" cy="409" r="1.8"/><circle cx="602" cy="496" r="2"/><circle cx="677" cy="512" r="2"/><circle cx="658" cy="381" r="2"/></g>
<g id="wage" class="mauve"><circle cx="643" cy="401" r="3"/><circle cx="635" cy="413" r="2.5"/><circle cx="631" cy="423" r="3"/><circle cx="641" cy="423" r="3"/><circle cx="634" cy="430" r="3"/><circle cx="627" cy="439" r="4"/><circle cx="622" cy="448" r="3.5"/><circle cx="631" cy="447" r="3.5"/><circle cx="641" cy="447" r="2.5"/><circle cx="626" cy="455" r="3.5"/><circle cx="617" cy="462" r="4"/><circle cx="610" cy="466" r="3"/><circle cx="625" cy="463" r="4.5"/><circle cx="634" cy="472" r="4"/><circle cx="618" cy="471" r="3.5"/><circle cx="624" cy="473" r="5"/><circle cx="612" cy="477" r="3"/><circle cx="621" cy="478" r="3"/><circle cx="628" cy="481" r="5"/><circle cx="638" cy="477" r="3.5"/><circle cx="617" cy="487" r="3.5"/><circle cx="628" cy="489" r="3.5"/><circle cx="643" cy="491" r="3.5"/><circle cx="653" cy="485" r="2.5"/><circle cx="653" cy="497" r="3"/><circle cx="633" cy="495" r="3"/><circle cx="625" cy="497" r="3"/><circle cx="613" cy="493" r="2.5"/><circle cx="631" cy="503" r="3.5"/><circle cx="580" cy="526" r="3"/><circle cx="571" cy="527" r="3"/><circle cx="544" cy="532" r="3"/><circle cx="550" cy="526" r="2"/><circle cx="633" cy="387" r="2.5"/><circle cx="650" cy="390" r="2.5"/><circle cx="680" cy="387" r="2.5"/></g>
<g id="inequality" class="ired"><circle cx="791" cy="400" r="4"/><circle cx="774" cy="406" r="4"/><circle cx="788" cy="410" r="3"/><circle cx="748" cy="410" r="4"/><circle cx="764" cy="386" r="2.5"/><circle cx="784" cy="392" r="2.5"/><circle cx="708" cy="425" r="3"/><circle cx="758" cy="422" r="3"/><circle cx="779" cy="422" r="3.5"/><circle cx="739" cy="420" r="3"/><circle cx="727" cy="415" r="2.5"/><circle cx="700" cy="416" r="3"/><circle cx="691" cy="402" r="2.5"/><circle cx="700" cy="434" r="4"/><circle cx="709" cy="430" r="3"/><circle cx="718" cy="432" r="3.5"/><circle cx="736" cy="430" r="3.5"/><circle cx="747" cy="432" r="4"/><circle cx="759" cy="433" r="5"/><circle cx="772" cy="429" r="3.5"/><circle cx="696" cy="442" r="5"/><circle cx="706" cy="445" r="4"/><circle cx="718" cy="441" r="4"/><circle cx="728" cy="447" r="4"/><circle cx="744" cy="441" r="4"/><circle cx="753" cy="448" r="3"/><circle cx="713" cy="449" r="3"/><circle cx="673" cy="449" r="4"/><circle cx="682" cy="454" r="3"/><circle cx="693" cy="460" r="3"/><circle cx="703" cy="456" r="3"/><circle cx="722" cy="456" r="5"/><circle cx="736" cy="453" r="3.5"/><circle cx="750" cy="454" r="3.5"/><circle cx="766" cy="460" r="2.5"/><circle cx="742" cy="463" r="3"/><circle cx="710" cy="468" r="5"/><circle cx="718" cy="466" r="3"/><circle cx="725" cy="465" r="3"/><circle cx="751" cy="462" r="2.5"/><circle cx="678" cy="470" r="2.5"/><circle cx="689" cy="464" r="2.5"/><circle cx="737" cy="472" r="4"/><circle cx="712" cy="477" r="5"/><circle cx="687" cy="478" r="4"/><circle cx="699" cy="480" r="3.5"/><circle cx="757" cy="477" r="3"/><circle cx="749" cy="483" r="3"/><circle cx="732" cy="488" r="3.5"/><circle cx="716" cy="487" r="5"/><circle cx="703" cy="491" r="3.5"/><circle cx="728" cy="496" r="3"/><circle cx="722" cy="493" r="3"/><circle cx="713" cy="497" r="3"/><circle cx="678" cy="496" r="3"/><circle cx="655" cy="453" r="2.5"/><circle cx="664" cy="438" r="2.5"/><circle cx="641" cy="457" r="2.5"/><circle cx="617" cy="443" r="2.5"/><circle cx="593" cy="412" r="2.5"/><circle cx="593" cy="435" r="2.5"/><circle cx="585" cy="415" r="2.5"/><circle cx="593" cy="423" r="2.5"/><circle cx="658" cy="474" r="2.5"/><circle cx="708" cy="515" r="1.8"/><circle cx="713" cy="531" r="1.8"/><circle cx="711" cy="526" r="1.5"/><circle cx="792" cy="432" r="1.8"/><circle cx="798" cy="436" r="1.5"/><circle cx="804" cy="404" r="1.8"/><circle cx="802" cy="410" r="1.5"/><circle cx="648" cy="562" r="2"/><circle cx="710" cy="381" r="2"/><circle cx="719" cy="382" r="2"/></g>
<g id="uk" class="dk"><circle cx="771" cy="552" r="3"/><circle cx="789" cy="568" r="2.5"/><circle cx="797" cy="573" r="3"/><circle cx="786" cy="574" r="3"/><circle cx="773" cy="583" r="3.5"/><circle cx="782" cy="584" r="3"/><circle cx="792" cy="582" r="3"/><circle cx="762" cy="593" r="3"/><circle cx="768" cy="597" r="3"/><circle cx="798" cy="592" r="2.5"/><circle cx="775" cy="597" r="3"/><circle cx="787" cy="597" r="3"/><circle cx="772" cy="602" r="3"/><circle cx="761" cy="606" r="4.5"/><circle cx="784" cy="605" r="4.5"/><circle cx="769" cy="608" r="2.5"/><circle cx="791" cy="611" r="2.5"/><circle cx="747" cy="615" r="3"/><circle cx="734" cy="616" r="3"/><circle cx="761" cy="618" r="4.5"/><circle cx="771" cy="619" r="4.5"/><circle cx="783" cy="615" r="2.5"/><circle cx="743" cy="627" r="2.5"/><circle cx="760" cy="626" r="2.5"/><circle cx="776" cy="628" r="2.5"/><circle cx="782" cy="625" r="2.5"/><circle cx="754" cy="636" r="4"/><circle cx="770" cy="633" r="2.5"/><circle cx="779" cy="633" r="2.5"/><circle cx="773" cy="640" r="2.5"/><circle cx="768" cy="648" r="2"/><circle cx="758" cy="649" r="1.5"/></g>
<g id="tech" class="purple"><circle cx="555" cy="558" r="3"/><circle cx="586" cy="556" r="2"/><circle cx="603" cy="553" r="2"/><circle cx="637" cy="571" r="3"/><circle cx="672" cy="571" r="3"/><circle cx="695" cy="568" r="1.8"/><circle cx="693" cy="574" r="1.8"/><circle cx="569" cy="570" r="2.5"/><circle cx="578" cy="572" r="2.5"/><circle cx="582" cy="586" r="4.5"/><circle cx="573" cy="592" r="4.5"/><circle cx="632" cy="584" r="3"/><circle cx="642" cy="582" r="2.5"/><circle cx="652" cy="587" r="3"/><circle cx="669" cy="584" r="3"/><circle cx="643" cy="591" r="3"/><circle cx="683" cy="595" r="3"/><circle cx="557" cy="597" r="2.5"/><circle cx="565" cy="597" r="2.5"/><circle cx="585" cy="599" r="3"/><circle cx="593" cy="600" r="3"/><circle cx="627" cy="597" r="2.5"/><circle cx="647" cy="598" r="2.5"/><circle cx="657" cy="598" r="3.5"/><circle cx="665" cy="595" r="2.5"/><circle cx="690" cy="600" r="3.5"/><circle cx="707" cy="601" r="3"/><circle cx="677" cy="603" r="2.5"/><circle cx="648" cy="603" r="2.5"/><circle cx="565" cy="609" r="2.5"/><circle cx="577" cy="612" r="3"/><circle cx="585" cy="605" r="3"/><circle cx="595" cy="609" r="3"/><circle cx="604" cy="611" r="3"/><circle cx="617" cy="608" r="2.5"/><circle cx="628" cy="613" r="1.8"/><circle cx="620" cy="616" r="1.8"/><circle cx="580" cy="623" r="3"/><circle cx="609" cy="622" r="2.5"/><circle cx="600" cy="630" r="2.5"/><circle cx="590" cy="634" r="2"/><circle cx="608" cy="632" r="2"/><circle cx="569" cy="641" r="3"/><circle cx="583" cy="644" r="3"/><circle cx="588" cy="619" r="2"/><circle cx="622" cy="526" r="1.8"/><circle cx="625" cy="532" r="1.5"/><circle cx="602" cy="496" r="2"/></g>
<g id="powell" class="cyan"><circle cx="431" cy="597" r="3"/><circle cx="451" cy="593" r="4.5"/><circle cx="458" cy="597" r="3"/><circle cx="422" cy="609" r="3"/><circle cx="428" cy="606" r="3"/><circle cx="438" cy="605" r="4.5"/><circle cx="450" cy="603" r="3"/><circle cx="465" cy="600" r="3"/><circle cx="477" cy="595" r="3"/><circle cx="493" cy="593" r="3"/><circle cx="476" cy="604" r="3.5"/><circle cx="485" cy="605" r="3"/><circle cx="503" cy="606" r="3"/><circle cx="460" cy="611" r="3"/><circle cx="477" cy="614" r="4.5"/><circle cx="435" cy="621" r="4.5"/><circle cx="452" cy="617" r="3"/><circle cx="492" cy="616" r="3"/><circle cx="417" cy="624" r="3"/><circle cx="426" cy="628" r="3"/><circle cx="440" cy="627" r="3.5"/><circle cx="465" cy="622" r="3"/><circle cx="475" cy="625" r="3"/><circle cx="484" cy="625" r="3"/><circle cx="460" cy="632" r="3"/><circle cx="468" cy="633" r="3"/><circle cx="425" cy="640" r="5"/><circle cx="435" cy="641" r="5"/><circle cx="447" cy="638" r="3.5"/><circle cx="486" cy="636" r="5"/><circle cx="455" cy="643" r="3.5"/><circle cx="463" cy="643" r="3.5"/><circle cx="473" cy="643" r="3.5"/><circle cx="492" cy="648" r="3.5"/><circle cx="412" cy="652" r="3"/><circle cx="422" cy="650" r="3.5"/><circle cx="431" cy="650" r="5"/><circle cx="440" cy="651" r="3.5"/><circle cx="478" cy="654" r="4"/><circle cx="464" cy="655" r="3.5"/><circle cx="418" cy="658" r="3"/><circle cx="413" cy="661" r="3"/><circle cx="430" cy="660" r="3.5"/><circle cx="453" cy="663" r="3.5"/><circle cx="467" cy="662" r="3.5"/><circle cx="476" cy="661" r="4.5"/><circle cx="499" cy="663" r="3"/><circle cx="510" cy="659" r="3"/><circle cx="518" cy="644" r="3"/><circle cx="427" cy="664" r="3"/><circle cx="444" cy="669" r="5"/><circle cx="418" cy="669" r="3"/><circle cx="426" cy="677" r="3"/><circle cx="432" cy="676" r="3"/><circle cx="441" cy="677" r="3"/><circle cx="482" cy="667" r="3"/><circle cx="514" cy="672" r="3"/><circle cx="513" cy="682" r="3"/><circle cx="528" cy="682" r="3"/><circle cx="540" cy="664" r="3.5"/><circle cx="562" cy="662" r="3"/><circle cx="398" cy="657" r="1"/><circle cx="567" cy="683" r="3"/><circle cx="578" cy="667" r="3"/><circle cx="590" cy="664" r="3.5"/><circle cx="579" cy="674" r="3"/><circle cx="593" cy="672" r="3"/><circle cx="614" cy="666" r="3.5"/><circle cx="602" cy="672" r="3"/><circle cx="610" cy="672" r="3"/><circle cx="617" cy="676" r="3"/><circle cx="590" cy="682" r="4.5"/><circle cx="601" cy="680" r="3.5"/><circle cx="608" cy="683" r="3"/><circle cx="616" cy="683" r="3"/><circle cx="536" cy="691" r="3"/><circle cx="530" cy="695" r="3"/><circle cx="552" cy="688" r="3"/><circle cx="560" cy="690" r="3"/><circle cx="545" cy="693" r="3"/><circle cx="550" cy="699" r="4"/><circle cx="541" cy="701" r="3.5"/><circle cx="560" cy="699" r="3"/><circle cx="552" cy="708" r="2.5"/><circle cx="567" cy="702" r="2.5"/><circle cx="488" cy="547" r="3"/><circle cx="475" cy="562" r="3"/><circle cx="489" cy="571" r="3"/><circle cx="507" cy="563" r="3"/><circle cx="467" cy="579" r="3"/><circle cx="488" cy="521" r="2"/><circle cx="588" cy="536" r="2.5"/></g>
<g id="canada" class="lb"><circle cx="319" cy="322" r="3.5"/><circle cx="328" cy="320" r="3.5"/><circle cx="336" cy="327" r="3"/><circle cx="312" cy="334" r="4"/><circle cx="322" cy="338" r="4"/><circle cx="334" cy="338" r="4"/><circle cx="314" cy="343" r="3"/><circle cx="324" cy="346" r="3.5"/><circle cx="351" cy="340" r="2.5"/><circle cx="312" cy="351" r="3"/><circle cx="318" cy="355" r="2.5"/><circle cx="328" cy="352" r="3"/><circle cx="339" cy="352" r="4"/><circle cx="349" cy="347" r="3"/><circle cx="367" cy="348" r="3"/><circle cx="360" cy="353" r="3.5"/><circle cx="350" cy="358" r="3"/><circle cx="365" cy="357" r="3"/><circle cx="373" cy="353" r="2.5"/><circle cx="360" cy="361" r="3"/><circle cx="375" cy="360" r="2.5"/><circle cx="367" cy="363" r="3"/><circle cx="394" cy="382" r="2"/><circle cx="334" cy="313" r="0.6"/><circle cx="419" cy="402" r="1.5"/><circle cx="424" cy="406" r="1.5"/><circle cx="446" cy="430" r="2"/></g>
<g id="chain" class="chain"><circle cx="533" cy="263" r="2.5"/><circle cx="521" cy="283" r="2.5"/><circle cx="515" cy="278" r="2"/><circle cx="507" cy="293" r="2"/><circle cx="513" cy="297" r="2.5"/><circle cx="526" cy="299" r="2.5"/><circle cx="516" cy="316" r="2"/><circle cx="523" cy="333" r="2.5"/><circle cx="535" cy="323" r="2.5"/><circle cx="531" cy="342" r="2"/><circle cx="538" cy="343" r="2"/><circle cx="531" cy="355" r="2"/><circle cx="538" cy="354" r="2"/><circle cx="548" cy="356" r="2"/><circle cx="554" cy="372" r="2"/><circle cx="561" cy="387" r="2"/><circle cx="559" cy="396" r="1.8"/><circle cx="593" cy="449" r="2"/></g>
<g id="isolate-orange" class="orange2"><circle cx="461" cy="34" r="3"/><circle cx="467" cy="34" r="3"/><circle cx="458" cy="39" r="3"/><circle cx="464" cy="40" r="3"/><circle cx="472" cy="41" r="3"/><circle cx="457" cy="47" r="3.5"/><circle cx="463" cy="51" r="4"/><circle cx="470" cy="47" r="3.5"/><circle cx="458" cy="55" r="3"/><circle cx="467" cy="58" r="3"/><circle cx="473" cy="53" r="3"/><circle cx="461" cy="64" r="3"/><circle cx="467" cy="64" r="3"/><circle cx="473" cy="60" r="3"/></g>
<g id="isolate-cyan" class="cy2"><circle cx="458" cy="159" r="3"/><circle cx="451" cy="161" r="3"/><circle cx="462" cy="163" r="3"/><circle cx="455" cy="167" r="3"/><circle cx="449" cy="168" r="3"/><circle cx="463" cy="170" r="3"/><circle cx="456" cy="173" r="3"/><circle cx="451" cy="173" r="2.5"/></g>
<g id="isolate-pink" class="pink"><circle cx="303" cy="218" r="3"/><circle cx="312" cy="218" r="3"/><circle cx="297" cy="221" r="3"/><circle cx="301" cy="225" r="3"/><circle cx="308" cy="223" r="3"/><circle cx="315" cy="225" r="3"/><circle cx="296" cy="229" r="3"/><circle cx="303" cy="231" r="3"/><circle cx="312" cy="231" r="3"/><circle cx="303" cy="234" r="3"/></g>
<g id="isolate-purple" class="pur2"><circle cx="396" cy="207" r="2"/><circle cx="392" cy="211" r="2"/><circle cx="403" cy="210" r="1.5"/><circle cx="398" cy="214" r="1.5"/><circle cx="393" cy="215" r="1.5"/></g>
<g id="isolate-green" class="gr2"><circle cx="416" cy="249" r="3"/><circle cx="423" cy="252" r="3"/><circle cx="413" cy="256" r="3"/><circle cx="420" cy="258" r="3"/><circle cx="427" cy="258" r="3"/><circle cx="415" cy="263" r="3"/><circle cx="420" cy="265" r="3"/><circle cx="425" cy="265" r="3"/></g>
<g id="isolate-tan" class="tan"><circle cx="160" cy="289" r="3"/><circle cx="168" cy="291" r="3"/><circle cx="175" cy="292" r="3"/><circle cx="157" cy="298" r="3.5"/><circle cx="165" cy="297" r="3.5"/><circle cx="178" cy="297" r="3"/><circle cx="161" cy="306" r="5"/><circle cx="173" cy="305" r="5"/><circle cx="183" cy="303" r="3.5"/><circle cx="152" cy="307" r="3"/><circle cx="166" cy="310" r="3.5"/><circle cx="186" cy="310" r="3"/><circle cx="175" cy="312" r="4"/><circle cx="154" cy="313" r="3"/><circle cx="162" cy="315" r="3.5"/><circle cx="183" cy="315" r="3"/><circle cx="160" cy="321" r="3"/><circle cx="176" cy="321" r="3.5"/><circle cx="168" cy="325" r="3"/></g>
<g id="isolates-gray" class="gray"><circle cx="518" cy="194" r="1.2"/><circle cx="501" cy="208" r="1.2"/><circle cx="497" cy="211" r="1.2"/><circle cx="493" cy="215" r="1.2"/><circle cx="512" cy="233" r="1"/><circle cx="501" cy="240" r="1"/><circle cx="489" cy="252" r="1"/><circle cx="482" cy="259" r="1"/><circle cx="509" cy="244" r="1"/><circle cx="518" cy="246" r="1"/><circle cx="499" cy="257" r="1"/><circle cx="488" cy="267" r="1"/><circle cx="507" cy="263" r="1.2"/><circle cx="497" cy="271" r="1.2"/><circle cx="482" cy="275" r="1"/><circle cx="477" cy="277" r="1"/><circle cx="492" cy="283" r="1"/><circle cx="472" cy="294" r="1"/><circle cx="482" cy="289" r="1"/><circle cx="486" cy="297" r="1"/><circle cx="488" cy="302" r="1"/><circle cx="477" cy="303" r="1"/><circle cx="479" cy="312" r="1"/><circle cx="483" cy="322" r="1"/><circle cx="487" cy="321" r="1"/><circle cx="492" cy="318" r="1"/><circle cx="467" cy="325" r="1.2"/><circle cx="470" cy="328" r="1.2"/><circle cx="729" cy="134" r="1.2"/><circle cx="770" cy="176" r="1.2"/><circle cx="402" cy="454" r="1"/><circle cx="399" cy="460" r="1.2"/><circle cx="479" cy="497" r="1.2"/><circle cx="479" cy="502" r="1.2"/><circle cx="575" cy="482" r="1.2"/><circle cx="576" cy="486" r="1.2"/><circle cx="482" cy="487" r="1"/><circle cx="543" cy="328" r="1"/><circle cx="634" cy="358" r="1.2"/><circle cx="653" cy="363" r="1.2"/><circle cx="621" cy="371" r="1.2"/></g>
</g>
<g id="frames">
<rect class="fr" x="279" y="57" width="128" height="80"/>
<rect class="fr" x="566" y="7" width="129" height="112"/>
<rect class="fr" x="526" y="185" width="270" height="232"/>
<rect class="fr" x="797" y="302" width="150" height="64"/>
<rect class="fr" x="667" y="395" width="139" height="106"/>
<rect class="fr" x="591" y="383" width="76" height="146"/>
<rect class="fr" x="503" y="417" width="88" height="102"/>
<rect class="fr" x="363" y="418" width="140" height="159"/>
<rect class="fr" x="549" y="548" width="178" height="99"/>
<rect class="fr" x="727" y="558" width="88" height="93"/>
<rect class="fr" x="388" y="577" width="178" height="135"/>
<rect class="fr" x="299" y="311" width="89" height="65"/>
<line x1="378" y1="288" x2="523" y2="406" stroke="#111" stroke-width="1.2" marker-end="url(#ah)"/>
<line x1="807" y1="531" x2="680" y2="508" stroke="#111" stroke-width="1.2" marker-end="url(#ah)"/>
</g>
<g id="labels">
<text x="139" y="76" textLength="131" lengthAdjust="spacingAndGlyphs">India, Departure of</text><text x="139" y="93" textLength="132" lengthAdjust="spacingAndGlyphs">Central Bank Head</text>
<text x="708" y="20" textLength="134" lengthAdjust="spacingAndGlyphs">ECB, Inflation Views</text><text x="708" y="37" textLength="91" lengthAdjust="spacingAndGlyphs">‘Cut’, Global</text><text x="708" y="54" textLength="70" lengthAdjust="spacingAndGlyphs">Slowdown</text>
<text x="802" y="198" textLength="125" lengthAdjust="spacingAndGlyphs">Emerging Markets</text><text x="802" y="216" textLength="146" lengthAdjust="spacingAndGlyphs">and Australia: Dovish</text><text x="802" y="233" textLength="117" lengthAdjust="spacingAndGlyphs">Policies, Delayed</text><text x="802" y="250" textLength="35" lengthAdjust="spacingAndGlyphs">Hikes</text>
<text x="954" y="314" textLength="131" lengthAdjust="spacingAndGlyphs">BOJ, Debates over</text><text x="956" y="331" textLength="116" lengthAdjust="spacingAndGlyphs">‘Easy Policy’ Risks</text>
<text x="816" y="436" textLength="140" lengthAdjust="spacingAndGlyphs">Inequality Grab-Bag –</text><text x="816" y="454" textLength="175" lengthAdjust="spacingAndGlyphs">Yellow Vests + US Student</text><text x="816" y="471" textLength="144" lengthAdjust="spacingAndGlyphs">Loans + Africa + Poor</text><text x="816" y="488" textLength="70" lengthAdjust="spacingAndGlyphs">Millennials</text>
<text x="811" y="538" textLength="125" lengthAdjust="spacingAndGlyphs">Wage and Import</text><text x="811" y="556" textLength="96" lengthAdjust="spacingAndGlyphs">Prices, ‘Tepid’</text>
<text x="819" y="629" textLength="111" lengthAdjust="spacingAndGlyphs">UK, Weak Pound,</text><text x="819" y="648" textLength="149" lengthAdjust="spacingAndGlyphs">Brexit fears delay hike</text>
<text x="648" y="667" textLength="76" lengthAdjust="spacingAndGlyphs">Tech Stock</text><text x="648" y="684" textLength="58" lengthAdjust="spacingAndGlyphs">Declines</text>
<text x="264" y="626" textLength="112" lengthAdjust="spacingAndGlyphs">Powell, “Neutral</text><text x="264" y="643" textLength="103" lengthAdjust="spacingAndGlyphs">Rate”, Markets</text><text x="264" y="660" textLength="106" lengthAdjust="spacingAndGlyphs">“Turning Up the</text><text x="264" y="678" textLength="40" lengthAdjust="spacingAndGlyphs">Heat”</text>
<text x="239" y="437" textLength="70" lengthAdjust="spacingAndGlyphs">Treasuries,</text><text x="239" y="454" textLength="111" lengthAdjust="spacingAndGlyphs">Flattening, “Fed</text><text x="239" y="471" textLength="104" lengthAdjust="spacingAndGlyphs">Fever”, “Policy</text><text x="239" y="489" textLength="104" lengthAdjust="spacingAndGlyphs">Mistake Fears”</text>
<text x="254" y="265" textLength="92" lengthAdjust="spacingAndGlyphs">Stock Market</text><text x="254" y="283" textLength="123" lengthAdjust="spacingAndGlyphs">Missionaries: “Fed</text><text x="254" y="300" textLength="87" lengthAdjust="spacingAndGlyphs">Must Pause”</text>
<text x="199" y="332" textLength="58" lengthAdjust="spacingAndGlyphs">Canada</text><text x="199" y="349" textLength="67" lengthAdjust="spacingAndGlyphs">Slowdown,</text><text x="199" y="366" textLength="89" lengthAdjust="spacingAndGlyphs">Fewer Hikes?</text>
</g>
</svg>
